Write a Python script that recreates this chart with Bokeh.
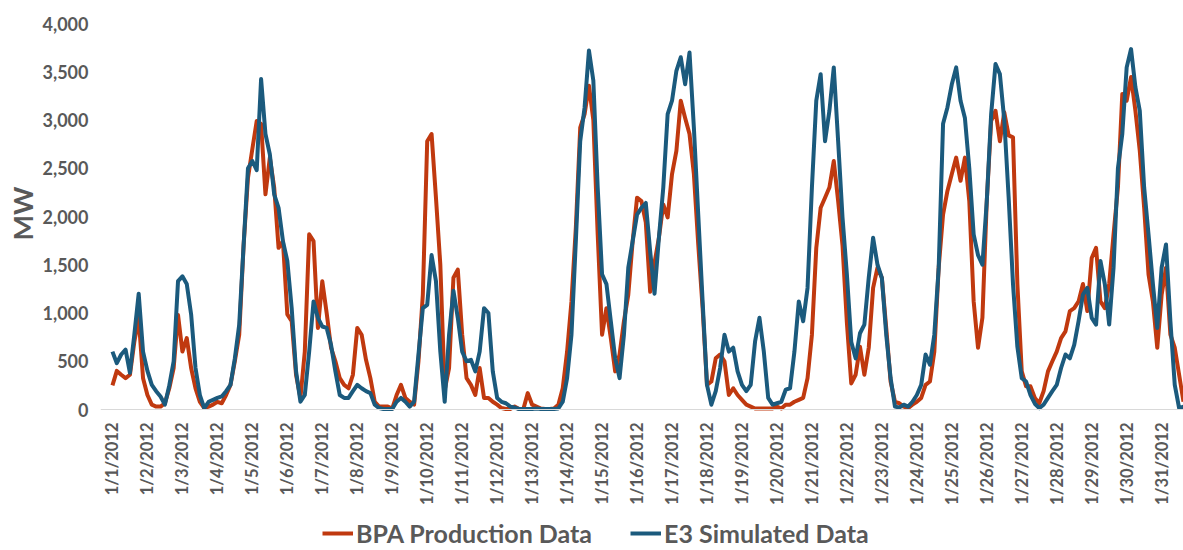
import math
from bokeh.plotting import figure
from bokeh.models import Range1d, FixedTicker, NumeralTickFormatter, Legend, LegendItem, Title
from bokeh.embed import file_html
from bokeh.resources import INLINE

# Day tick labels (one per 24 hourly categories)
day_labels = ["1/1/2012", "1/2/2012", "1/3/2012", "1/4/2012", "1/5/2012", "1/6/2012",
              "1/7/2012", "1/8/2012", "1/9/2012", "1/10/2012", "1/11/2012", "1/12/2012",
              "1/13/2012", "1/14/2012", "1/15/2012", "1/16/2012", "1/17/2012", "1/18/2012",
              "1/19/2012", "1/20/2012", "1/21/2012", "1/22/2012", "1/23/2012", "1/24/2012",
              "1/25/2012", "1/26/2012", "1/27/2012", "1/28/2012", "1/29/2012", "1/30/2012",
              "1/31/2012"]
y_ticks = [0, 500, 1000, 1500, 2000, 2500, 3000, 3500, 4000]

# values read every 3 hours, starting 1/1/2012 00:00
step_hours = 3
e3_simulated = [
    600, 480, 570, 620, 380, 775, 1200, 600,
    400, 255, 190, 135, 50, 250, 500, 1330,
    1380, 1300, 985, 430, 150, 15, 80, 100,
    120, 135, 190, 255, 530, 880, 1700, 2500,
    2575, 2480, 3425, 2855, 2645, 2230, 2090, 1745,
    1540, 1050, 395, 80, 150, 600, 1120, 950,
    860, 845, 670, 395, 150, 120, 120, 190,
    255, 220, 190, 170, 50, 15, 5, 5,
    5, 80, 120, 80, 30, 80, 570, 1050,
    1085, 1600, 1330, 600, 80, 775, 1230, 950,
    600, 500, 515, 395, 600, 1050, 1000, 395,
    120, 80, 65, 30, 20, 5, 5, 5,
    5, 10, 5, 5, 5, 5, 10, 80,
    325, 775, 1745, 2780, 3130, 3720, 3410, 2300,
    1400, 1300, 915, 530, 325, 775, 1470, 1745,
    2020, 2090, 2140, 1640, 1200, 1780, 2300, 3060,
    3200, 3510, 3650, 3370, 3700, 2920, 2020, 1120,
    255, 50, 190, 430, 775, 600, 640, 395,
    255, 190, 255, 705, 950, 600, 120, 50,
    65, 80, 205, 220, 600, 1120, 915, 1260,
    2300, 3200, 3475, 2780, 3095, 3545, 2780, 1990,
    1400, 700, 530, 790, 880, 1365, 1780, 1500,
    1365, 775, 325, 30, 20, 50, 30, 80,
    150, 255, 570, 465, 775, 1470, 2960, 3130,
    3370, 3545, 3200, 3020, 2500, 1815, 1600, 1500,
    2160, 3060, 3580, 3475, 3000, 2200, 1300, 650,
    325, 290, 150, 60, 15, 50, 120, 190,
    255, 430, 570, 530, 670, 915, 1190, 1260,
    950, 880, 1540, 1300, 880, 1470, 2500, 2855,
    3545, 3735, 3340, 3095, 2300, 1815, 1300, 845,
    1470, 1710, 915, 255, 15, 30,
]
bpa_production = [
    250, 400, 360, 325, 360, 700, 950, 325,
    150, 50, 30, 30, 65, 220, 430, 980,
    600, 740, 430, 220, 80, 15, 30, 50,
    80, 65, 150, 255, 500, 775, 1700, 2400,
    2700, 2990, 2960, 2230, 2610, 2300, 1675, 1745,
    985, 915, 360, 120, 600, 1815, 1745, 845,
    1330, 1000, 640, 500, 325, 255, 220, 360,
    845, 775, 515, 325, 80, 30, 30, 30,
    10, 150, 255, 120, 80, 50, 500, 1190,
    2780, 2855, 2195, 1500, 200, 430, 1365, 1450,
    775, 325, 255, 150, 430, 120, 120, 80,
    50, 15, 5, 5, 30, 5, 5, 170,
    50, 30, 10, 5, 5, 10, 50, 220,
    600, 1120, 1885, 2920, 3060, 3355, 3000, 1815,
    775, 1050, 740, 395, 570, 915, 1190, 1745,
    2195, 2160, 1940, 1220, 1520, 1780, 2125, 1990,
    2440, 2680, 3200, 3020, 2855, 2440, 1710, 1050,
    255, 290, 530, 570, 500, 150, 220, 150,
    100, 50, 30, 10, 10, 10, 10, 10,
    30, 10, 50, 50, 80, 100, 120, 325,
    775, 1675, 2090, 2195, 2300, 2575, 2160, 1700,
    900, 270, 360, 650, 360, 640, 1260, 1470,
    1365, 845, 290, 80, 65, 30, 15, 50,
    80, 120, 255, 290, 600, 1470, 2020, 2265,
    2440, 2610, 2370, 2610, 2160, 1120, 640, 950,
    2160, 2990, 3095, 2780, 3080, 2840, 2820, 1300,
    395, 240, 240, 120, 65, 190, 395, 500,
    600, 740, 810, 1020, 1050, 1120, 1300, 1020,
    1570, 1675, 1120, 1050, 1300, 1815, 2300, 3270,
    3200, 3445, 3095, 2680, 2090, 1400, 1120, 640,
    1190, 1470, 775, 640, 360, 80,
]

hours = [i * step_hours for i in range(len(e3_simulated))]
day_ticks = [24 * i for i in range(len(day_labels))]

FONT = "Lato"
TEXT = "#595959"

# The frame reaches down to the bottom of the canvas so the date labels and the
# legend (drawn below the zero line) stay inside it; 386 px cover 0..4000 MW.
y_low = -4000 * 141 / 386

p = figure(frame_width=1083, frame_height=527,
           min_border_left=100, min_border_right=0, min_border_top=23, min_border_bottom=0,
           x_range=Range1d(-8.2, 735), y_range=Range1d(y_low, 4000),
           output_backend="svg", toolbar_location=None)
p.outline_line_color = None
p.xgrid.visible = False
p.ygrid.visible = False

r1 = p.line(hours, bpa_production, line_color="#C0390F", line_width=4, line_join="round")
r2 = p.line(hours, e3_simulated, line_color="#1B5A7D", line_width=4, line_join="round")

# y axis
p.yaxis.bounds = (0, 4000)
p.yaxis.ticker = FixedTicker(ticks=y_ticks)
p.yaxis.formatter = NumeralTickFormatter(format="0,0")
p.yaxis.axis_line_color = None
p.yaxis.major_tick_line_color = None
p.yaxis.minor_tick_line_color = None
p.yaxis.major_tick_out = 0
p.yaxis.major_label_standoff = 12
p.yaxis.major_label_text_font = FONT
p.yaxis.major_label_text_font_style = "bold"
p.yaxis.major_label_text_font_size = "18px"
p.yaxis.major_label_text_color = TEXT

# "MW" axis title beside the 0..4000 span (offset measured up from the frame bottom)
mw_title = Title(text="MW", align="left", offset=310, standoff=2,
                 text_font=FONT, text_font_style="bold", text_font_size="27px",
                 text_color=TEXT)
p.add_layout(mw_title, "left")

# x axis drawn at MW = 0
p.xaxis.fixed_location = 0
p.xaxis.ticker = FixedTicker(ticks=day_ticks)
p.xaxis.major_label_overrides = {t: lab for t, lab in zip(day_ticks, day_labels)}
p.xaxis.major_label_orientation = math.pi / 2
p.xaxis.axis_line_color = "#D9D9D9"
p.xaxis.axis_line_width = 1
p.xaxis.major_tick_line_color = None
p.xaxis.minor_tick_line_color = None
p.xaxis.major_tick_out = 0
p.xaxis.major_label_standoff = 13
p.xaxis.major_label_text_font = FONT
p.xaxis.major_label_text_font_style = "bold"
p.xaxis.major_label_text_font_size = "16.5px"
p.xaxis.major_label_text_color = TEXT

legend = Legend(items=[LegendItem(label="BPA Production Data", renderers=[r1]),
                       LegendItem(label="E3 Simulated Data", renderers=[r2])],
                orientation="horizontal", location=(222, 2))
legend.label_text_font = FONT
legend.label_text_font_style = "bold"
legend.label_text_font_size = "25px"
legend.label_text_color = TEXT
legend.glyph_width = 31
legend.glyph_height = 20
legend.label_standoff = 3
legend.spacing = 38
legend.padding = 0
legend.margin = 0
legend.border_line_color = None
legend.background_fill_alpha = 0
p.add_layout(legend, "center")

open("out.html", "w").write(file_html(p, INLINE))
